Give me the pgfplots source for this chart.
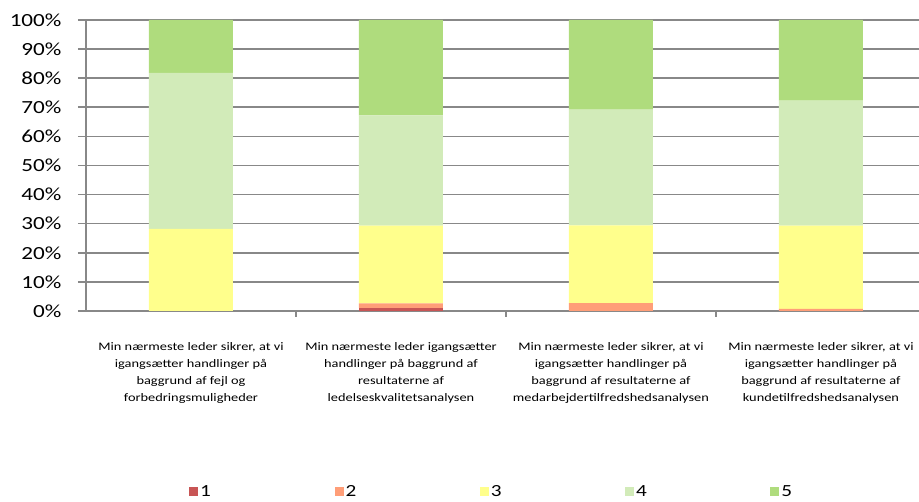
\documentclass[border=0pt]{standalone}
\usepackage{pgfplots}
\pgfplotsset{compat=1.18}
\usepackage{fontspec}
\setmainfont[FakeStretch=1.25]{Carlito}
\definecolor{c1}{RGB}{200,85,85}
\definecolor{c2}{RGB}{255,158,120}
\definecolor{c3}{RGB}{255,255,140}
\definecolor{c4}{RGB}{210,235,185}
\definecolor{c5}{RGB}{175,220,125}
\definecolor{gridc}{RGB}{136,136,136}
\begin{document}
\begin{tikzpicture}
\begin{axis}[
 at={(0pt,0pt)}, anchor=south west,
 scale only axis, width=833pt, height=291pt,
 ybar stacked, bar width=84pt,
 xmin=-0.5, xmax=3.467, ymin=0, ymax=100,
 axis x line*=bottom, axis y line*=left,
 axis line style={gridc, line width=1.6pt, -},
 ymajorgrids, grid style={gridc, line width=1.6pt},
 /pgf/number format/assume math mode=true,
 ytick={0,10,...,100},
 yticklabel={\pgfmathprintnumber{\tick}\%},
 yticklabel style={font=\fontsize{18.5}{18.5}\selectfont, xshift=-13pt},
 tick align=outside,
 ytick style={gridc, line width=1.6pt},
 major tick length=8pt,
 minor tick length=6pt,
 xtick={0,1,2,3},
 major x tick style={draw=none},
 minor xtick={0.5,1.5,2.5},
 minor x tick style={gridc, line width=1.6pt},
 xticklabels={
  {Min nærmeste leder sikrer, at vi\\igangsætter handlinger på\\baggrund af fejl og\\forbedringsmuligheder},
  {Min nærmeste leder igangsætter\\handlinger på baggrund af\\resultaterne af\\ledelseskvalitetsanalysen},
  {Min nærmeste leder sikrer, at vi\\igangsætter handlinger på\\baggrund af resultaterne af\\medarbejdertilfredshedsanalysen},
  {Min nærmeste leder sikrer, at vi\\igangsætter handlinger på\\baggrund af resultaterne af\\kundetilfredshedsanalysen}},
 xticklabel style={align=center, font=\fontsize{11.5}{17}\selectfont, yshift=-20pt},
 legend columns=5,
 legend style={at={(0.487,-0.622)}, anchor=center, draw=none,
   font=\fontsize{17}{17}\selectfont,
   /tikz/every even column/.append style={column sep=121.5pt}},
 legend image code/.code={\fill[#1] (0pt,-4.5pt) rectangle (9pt,4.5pt);},
]
\addplot[fill=c1, draw=none] coordinates {(0,0) (1,1.1) (2,0) (3,0)};
\addplot[fill=c2, draw=none] coordinates {(0,0) (1,1.5) (2,2.7) (3,0.7)};
\addplot[fill=c3, draw=none] coordinates {(0,28.2) (1,26.7) (2,26.7) (3,28.6)};
\addplot[fill=c4, draw=none] coordinates {(0,53.6) (1,37.9) (2,39.8) (3,43.0)};
\addplot[fill=c5, draw=none] coordinates {(0,18.2) (1,32.8) (2,30.8) (3,27.7)};
\legend{1,2,3,4,5}
\end{axis}
\pgfresetboundingbox
\useasboundingbox (-86pt,-191pt) rectangle (833pt,311pt);
\end{tikzpicture}
\end{document}
